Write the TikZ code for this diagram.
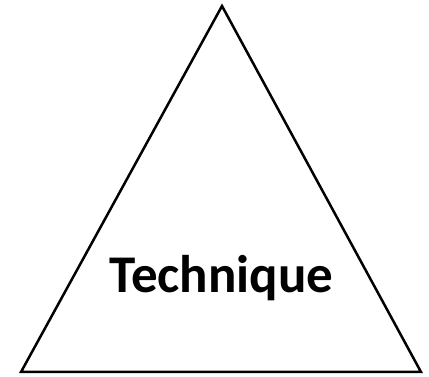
\documentclass[tikz,border=0pt]{standalone}
\usepackage{fontspec}
\setmainfont{Carlito}
\tikzset{
  every picture/.style={line join=miter, line cap=butt},
  side/.style={line width=2.5pt},
  label/.style={font=\bfseries\fontsize{53}{58}\selectfont, inner sep=0pt, anchor=base},
}
\begin{document}
\begin{tikzpicture}[x=1pt,y=1pt]
\useasboundingbox (0,0) rectangle (429,377);
\coordinate (top) at (222,371);
\coordinate (left) at (21,5);
\coordinate (right) at (421,5);
\draw[side](left)--(top)--(right)--cycle;
\node[label] (tech) at (221.5,84) {Technique};
\end{tikzpicture}
\end{document}
